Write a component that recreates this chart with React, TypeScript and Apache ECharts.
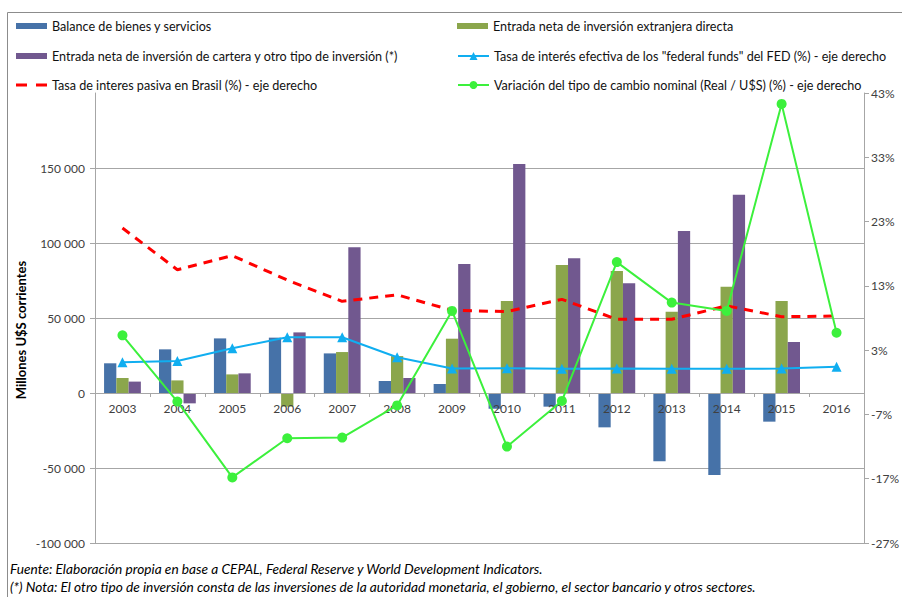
import React, { useEffect, useRef } from "react";
import * as echarts from "echarts";

const years = ["2003", "2004", "2005", "2006", "2007", "2008", "2009", "2010", "2011", "2012", "2013", "2014", "2015", "2016"];
const balance = [19800, 29100, 36400, 36900, 26400, 8000, 6000, -10500, -9100, -22900, -45500, -54700, -19100, null];
const fdi = [10000, 8400, 12400, -9100, 27300, 24600, 36200, 61300, 85300, 81300, 54200, 70900, 61300, null];
const portfolio = [7600, -6900, 13100, 40400, 97100, 10000, 86000, 152700, 89800, 73100, 108000, 132200, 34000, null];
const fedRate = [1.1, 1.3, 3.3, 5.0, 5.0, 1.9, 0.16, 0.18, 0.1, 0.14, 0.11, 0.09, 0.13, 0.4];
const brazilRate = [22.0, 15.5, 17.7, 13.9, 10.6, 11.6, 9.2, 9.0, 10.9, 7.8, 7.8, 9.9, 8.2, 8.3];
const fxChange = [5.3, -5.0, -16.8, -10.7, -10.6, -5.6, 9.1, -12.0, -4.9, 16.7, 10.4, 9.1, 41.3, 5.7];

const names = [
  "Balance de bienes y servicios",
  "Entrada neta de inversión extranjera directa",
  "Entrada neta de inversión de cartera y otro tipo de inversión (*)",
  "Tasa de interés efectiva de los \"federal funds\" del FED (%) - eje derecho",
  "Tasa de interes pasiva en Brasil (%) - eje derecho",
  "Variación del tipo de cambio nominal (Real / U$S) (%) - eje derecho",
];
const notes = [
  "Fuente: Elaboración propia en base a CEPAL, Federal Reserve y World Development Indicators.",
  "(*) Nota: El otro tipo de inversión consta de las inversiones de la autoridad monetaria, el gobierno, el sector bancario y otros sectores.",
];

const FONT = "Lato";
const fmtThousands = (v: number) => {
  const s = Math.abs(v).toString().replace(/\B(?=(\d{3})+(?!\d))/g, " ");
  return (v < 0 ? "-" : "") + s;
};

export default function App() {
  const ref = useRef<HTMLDivElement>(null);
  useEffect(() => {
    document.body.style.margin = "0";
    const chart = echarts.init(ref.current!, null, { renderer: "svg" });
    const legendText = { fontFamily: FONT, fontSize: 12.6, color: "#111", lineHeight: 14 };
    const mkLegend = (name: string, left: number, top: number, kind: string) => ({
      left,
      top,
      padding: 0,
      data: [
        kind === "dash"
          ? { name, icon: "path://M0,0h11v3h-11zM20,0h11v3h-11z" }
          : { name },
      ],
      icon: kind === "bar" ? "rect" : undefined,
      itemWidth: 31,
      itemHeight: kind === "bar" ? 6 : kind === "dash" ? 3 : 10,
      itemGap: 5,
      textStyle: legendText,
      selectedMode: false,
    });
    chart.setOption({
      animation: false,
      backgroundColor: "#fff",
      textStyle: { fontFamily: FONT },
      legend: [
        mkLegend(names[0], 16, 19, "bar"),
        mkLegend(names[1], 457, 19, "bar"),
        mkLegend(names[2], 16, 49, "bar"),
        mkLegend(names[3], 457, 49, "line"),
        mkLegend(names[4], 16, 78, "dash"),
        mkLegend(names[5], 457, 78, "line"),
      ],
      grid: { left: 95, right: 30, top: 93, bottom: 54 },
      xAxis: {
        type: "category",
        data: years,
        offset: -150,
        z: 3,
        axisLine: { onZero: false, lineStyle: { color: "#a6a6a6" } },
        axisTick: { show: true, length: 4, lineStyle: { color: "#a6a6a6" } },
        axisLabel: { color: "#404040", fontSize: 12, fontFamily: FONT, margin: 9 },
      },
      yAxis: [
        {
          type: "value",
          min: -100000,
          max: 200000,
          interval: 50000,
          axisLine: { show: true, lineStyle: { color: "#a6a6a6" } },
          axisTick: { show: true, length: 5, lineStyle: { color: "#a6a6a6" } },
          axisLabel: { color: "#404040", fontSize: 12, fontFamily: FONT, margin: 10, showMaxLabel: false, formatter: fmtThousands },
          splitLine: { show: true, showMaxLine: false, lineStyle: { color: "#a6a6a6" } },
        },
        {
          type: "value",
          min: -27,
          max: 43,
          interval: 10,
          axisLine: { show: true, lineStyle: { color: "#a6a6a6" } },
          axisTick: { show: true, length: 5, lineStyle: { color: "#a6a6a6" } },
          axisLabel: { color: "#404040", fontSize: 12, fontFamily: FONT, margin: 7, formatter: (v: number) => v + "%" },
          splitLine: { show: false },
        },
      ],
      series: [
        { name: names[0], type: "bar", data: balance, itemStyle: { color: "#4672a8" }, barGap: "0%", barCategoryGap: "33%" },
        { name: names[1], type: "bar", data: fdi, itemStyle: { color: "#8ba64c" } },
        { name: names[2], type: "bar", data: portfolio, itemStyle: { color: "#71588f" } },
        {
          name: names[3], type: "line", yAxisIndex: 1, data: fedRate, z: 5,
          symbol: "triangle", symbolSize: 10, showSymbol: true,
          lineStyle: { color: "#10aef0", width: 2 }, itemStyle: { color: "#10aef0" },
        },
        {
          name: names[4], type: "line", yAxisIndex: 1, data: brazilRate, z: 5,
          symbol: "none",
          lineStyle: { color: "#ff0000", width: 3, type: [9, 7] }, itemStyle: { color: "#ff0000" },
        },
        {
          name: names[5], type: "line", yAxisIndex: 1, data: fxChange, z: 5,
          symbol: "circle", symbolSize: 10, showSymbol: true,
          lineStyle: { color: "#3cf03c", width: 2 }, itemStyle: { color: "#3cf03c" },
        },
      ],
      graphic: [
        {
          type: "rect", left: 5, top: 10, silent: true,
          shape: { x: 0, y: 0, width: 1000, height: 1000 },
          style: { fill: "none", stroke: "#8c8c8c", lineWidth: 1 },
        },
        {
          type: "text", x: 21, y: 330, rotation: Math.PI / 2,
          style: { text: "Millones U$S corrientes", fontFamily: FONT, fontSize: 13, fontWeight: "bold", fill: "#000", textAlign: "center", textVerticalAlign: "middle" },
        },
        {
          type: "text", x: 10, y: 568,
          style: { text: notes[0], fontFamily: FONT, fontSize: 13.7, fontStyle: "italic", fill: "#000", textAlign: "left", textVerticalAlign: "middle" },
        },
        {
          type: "text", x: 10, y: 586,
          style: { text: notes[1], fontFamily: FONT, fontSize: 13.7, fontStyle: "italic", fill: "#000", textAlign: "left", textVerticalAlign: "middle" },
        },
      ],
    });
    return () => chart.dispose();
  }, []);
  return <div ref={ref} style={{ position: "absolute", left: 0, top: 0, width: 902, height: 597 }} />;
}
